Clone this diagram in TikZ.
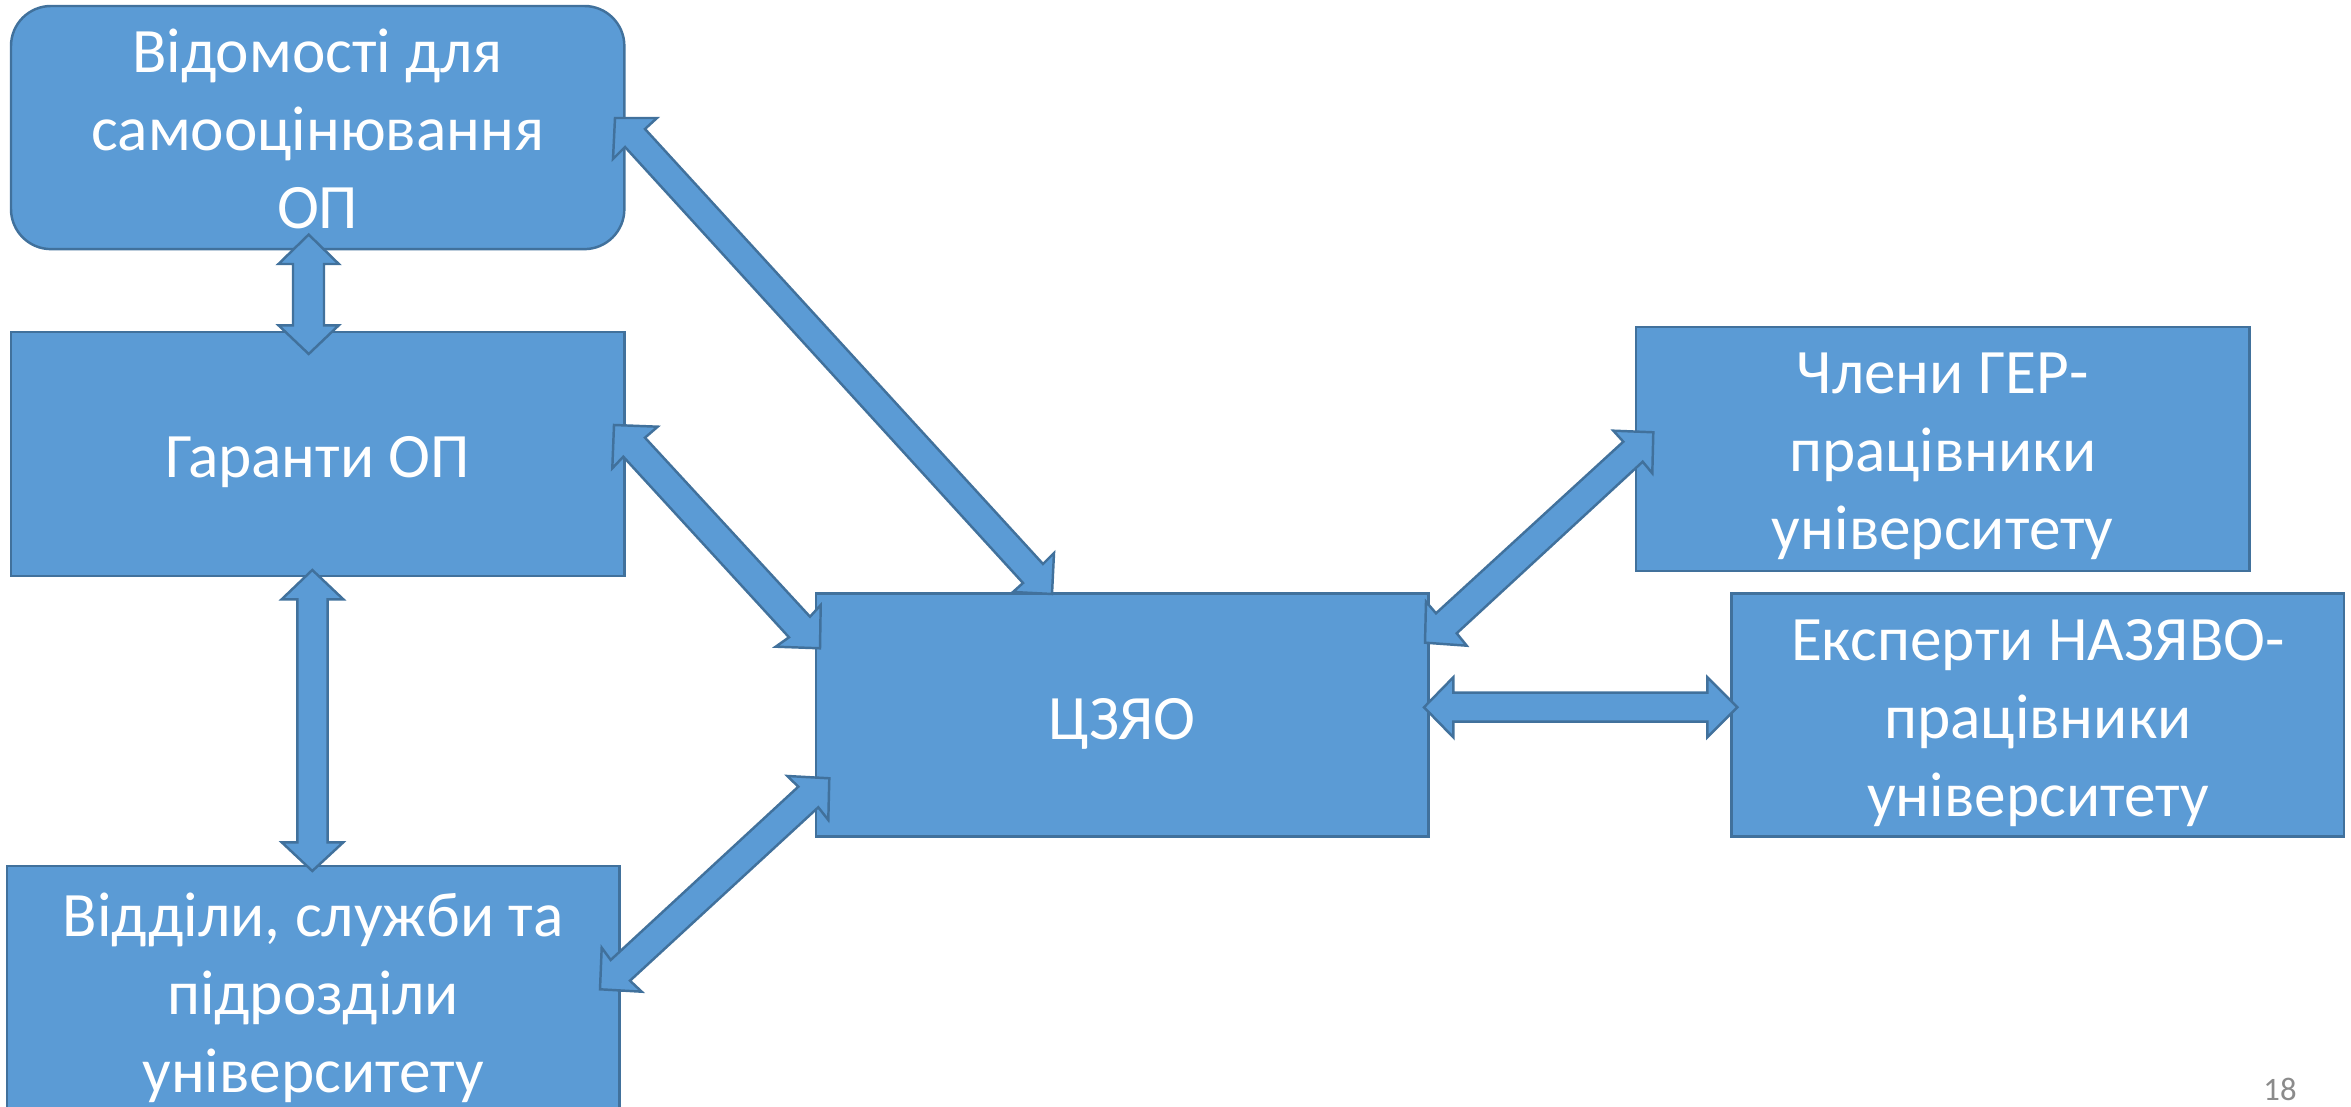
\documentclass[tikz,border=0pt]{standalone}
\usepackage{fontspec}
\setmainfont{Carlito}
\definecolor{boxfill}{HTML}{5B9BD5}
\definecolor{boxline}{HTML}{41719C}
\definecolor{pagegray}{HTML}{8B8B8B}
\tikzset{
  box/.style={draw=boxline, fill=boxfill, line width=0.7pt, anchor=north west,
    inner sep=0pt, outer sep=0pt},
  txt/.style={text=white, align=center, inner sep=0pt, outer sep=0pt,
    font=\fontsize{18}{22.2}\selectfont},
  blockarrow/.style={draw=boxline, fill=boxfill, line width=0.7pt, line join=miter},
}
\begin{document}
\begin{tikzpicture}[x=0.01cm,y=-0.01cm]
\useasboundingbox (0,0) rectangle (2351,1107);
% boxes
\node[box, rounded corners=0.4cm, minimum width=6.13cm, minimum height=2.43cm] (vid) at (11,6) {};
\node[box, minimum width=6.13cm, minimum height=2.44cm] (gar) at (11,332) {};
\node[box, minimum width=6.12cm, minimum height=2.45cm] (viddil) at (7,866) {};
\node[box, minimum width=6.12cm, minimum height=2.43cm] (czyao) at (816,593.4) {};
\node[box, minimum width=6.13cm, minimum height=2.44cm] (chleny) at (1636,327) {};
\node[box, minimum width=6.12cm, minimum height=2.43cm] (eksp) at (1731.7,593.4) {};
% texts
\node[txt] (vidT) at ([yshift=-0.01cm]vid.center) {Відомості для\\самооцінювання\\ОП};
\node[txt] (garT) at ([yshift=-0.075cm]gar.center) {Гаранти ОП};
\node[txt] (viddilT) at ([yshift=-0.09cm]viddil.center) {Відділи, служби та\\підрозділи\\університету};
\node[txt] (czyaoT) at ([yshift=-0.09cm]czyao.center) {ЦЗЯО};
\node[txt] (chlenyT) at ([yshift=-0.075cm]chleny.center) {Члени ГЕР-\\працівники \\університету};
\node[txt] (ekspT) at ([yshift=-0.08cm]eksp.center) {Експерти НАЗЯВО-\\працівники\\університету};
% block arrows
% Відомості <-> Гаранти
\path[blockarrow] (308.7,234.6)--(338.8,264)--(324,264)--(324,325.3)--(338.8,325.3)--(308.7,354)
  --(278.5,325.3)--(293,325.3)--(293,264)--(278.5,264)--cycle;
% Гаранти <-> Відділи
\path[blockarrow] (312.3,570)--(343.3,599.3)--(327.7,599.3)--(327.7,842.3)--(343.3,842.3)--(312.3,871)
  --(281.7,842.3)--(297.3,842.3)--(297.3,599.3)--(281.7,599.3)--cycle;
% Відомості <-> ЦЗЯО
\path[blockarrow] (615,118)--(657,118)--(645,129)--(1043,564)--(1054,553)--(1052,594)
  --(1013,592)--(1023,583)--(625,147)--(613,159)--cycle;
% Гаранти <-> ЦЗЯО
\path[blockarrow] (614,425)--(657.7,426.7)--(645,437.7)--(810,616.7)--(820.7,605)--(820,648.3)
  --(775.7,646.7)--(789,637.3)--(623.3,456.7)--(612.3,468.3)--cycle;
% Відділи <-> ЦЗЯО
\path[blockarrow] (829.3,778.3)--(787.3,776)--(798.3,786.7)--(610.7,960)--(601.7,947.7)--(600,989.3)
  --(641.7,991.7)--(630,980.7)--(818.3,807.3)--(828.3,820)--cycle;
% ЦЗЯО <-> Члени
\path[blockarrow] (1653.3,432.3)--(1613.3,430.7)--(1623.3,441.7)--(1436,613.3)--(1426,601.7)--(1425,642.7)
  --(1466.7,645.7)--(1456.7,633.3)--(1642.7,461.7)--(1652.3,473.3)--cycle;
% ЦЗЯО <-> Експерти
\path[blockarrow] (1424,707.3)--(1453.3,677.3)--(1453.3,692.7)--(1707.3,692.7)--(1707.3,677.3)--(1737.3,707.3)
  --(1707.3,737.3)--(1707.3,721.7)--(1453.3,721.7)--(1453.3,737.3)--cycle;
% page number
\node[text=pagegray, font=\fontsize{9.3}{11}\selectfont, anchor=base, inner sep=0pt] (pg) at (2280,1100.7) {18};
\end{tikzpicture}
\end{document}
